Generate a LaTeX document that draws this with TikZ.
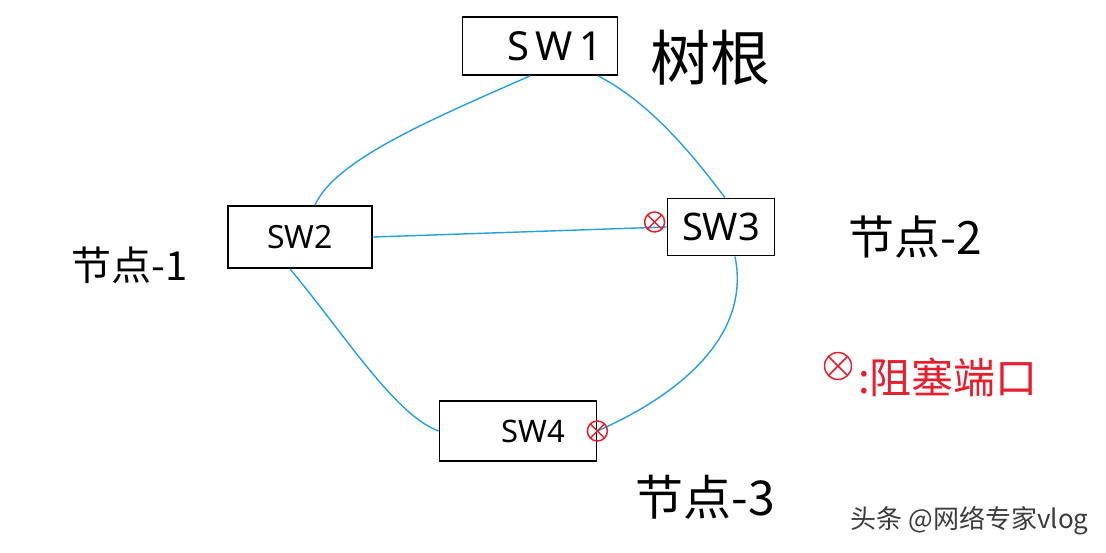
\documentclass[tikz,border=0pt]{standalone}
\usepackage{fontspec}
\setmainfont{Noto Sans}
\newfontfamily\cjk{Noto Sans CJK SC}
\definecolor{linkblue}{RGB}{35,160,225}
\definecolor{blkred}{RGB}{230,30,45}
\definecolor{wmgray}{RGB}{60,60,60}
\begin{document}
\begin{tikzpicture}[x=1pt,y=-1pt,
  sw/.style={draw, line width=1.8pt, inner sep=0pt, font=\fontsize{32}{32}\selectfont},
  link/.style={draw=linkblue, line width=1.4pt},
  blk/.style={circle, draw=blkred, line width=1.5pt, minimum size=20pt, inner sep=0pt,
    path picture={\draw[blkred, line width=1.5pt]
      (path picture bounding box.north west) -- (path picture bounding box.south east)
      (path picture bounding box.north east) -- (path picture bounding box.south west);}},
  lbl/.style={font=\cjk\fontsize{44}{44}\selectfont, inner sep=0pt}]
\useasboundingbox[fill=white] (0,0) rectangle (1106,552);

% switches
\node[sw, minimum width=155pt, minimum height=58pt, font=\fontsize{40}{40}\selectfont] (sw1) at (540,46) {\hspace*{30pt}S\,W\,1};
\node[sw, minimum width=144pt, minimum height=62pt] (sw2) at (300,237) {SW2};
\node[sw, minimum width=107pt, minimum height=57pt, font=\fontsize{38}{38}\selectfont] (sw3) at (721,227) {SW3};
\node[sw, minimum width=157pt, minimum height=60pt, font=\fontsize{31}{31}\selectfont] (sw4) at (518,431) {\hspace*{30pt}SW4};

% links
\draw[link] ([xshift=-10pt]sw1.south) .. controls (430,120) and (335,160) .. ([xshift=15pt]sw2.north);
\draw[link] ([xshift=58pt]sw1.south) .. controls (655,105) and (700,165) .. ([xshift=4pt]sw3.north);
\draw[link] (sw2.east) -- (sw3.west);
\draw[link] ([xshift=-10pt]sw2.south) .. controls (345,335) and (395,415) .. (sw4.west);
\draw[link] ([xshift=14pt]sw3.south) .. controls (750,330) and (690,390) .. (sw4.east);

% blocked ports
\node[blk] (b3) at ([xshift=-12pt,yshift=5pt]sw3.west) {};
\node[blk] (b4) at (sw4.east) {};

% labels
\node[lbl, font=\cjk\fontsize{60}{60}\selectfont] (root) at (710,58) {树根};
\node[lbl, font=\cjk\fontsize{40}{40}\selectfont] (n1) at (130,265) {节点-1};
\node[lbl, font=\cjk\fontsize{46}{46}\selectfont] (n2) at (915,237) {节点-2};
\node[lbl, font=\cjk\fontsize{48}{48}\selectfont] (n3) at (705,497) {节点-3};

% legend
\node[blk, minimum size=27pt] (lg) at (838,366) {};
\node[lbl, text=blkred, font=\cjk\fontsize{42}{42}\selectfont, anchor=west] (lgt) at (858,377) {:阻塞端口};

% watermark
\node[font=\cjk\fontsize{26}{26}\selectfont, text=wmgray, anchor=east] (wm) at (1092,521) {头条 @网络专家vlog};
\end{tikzpicture}
\end{document}
